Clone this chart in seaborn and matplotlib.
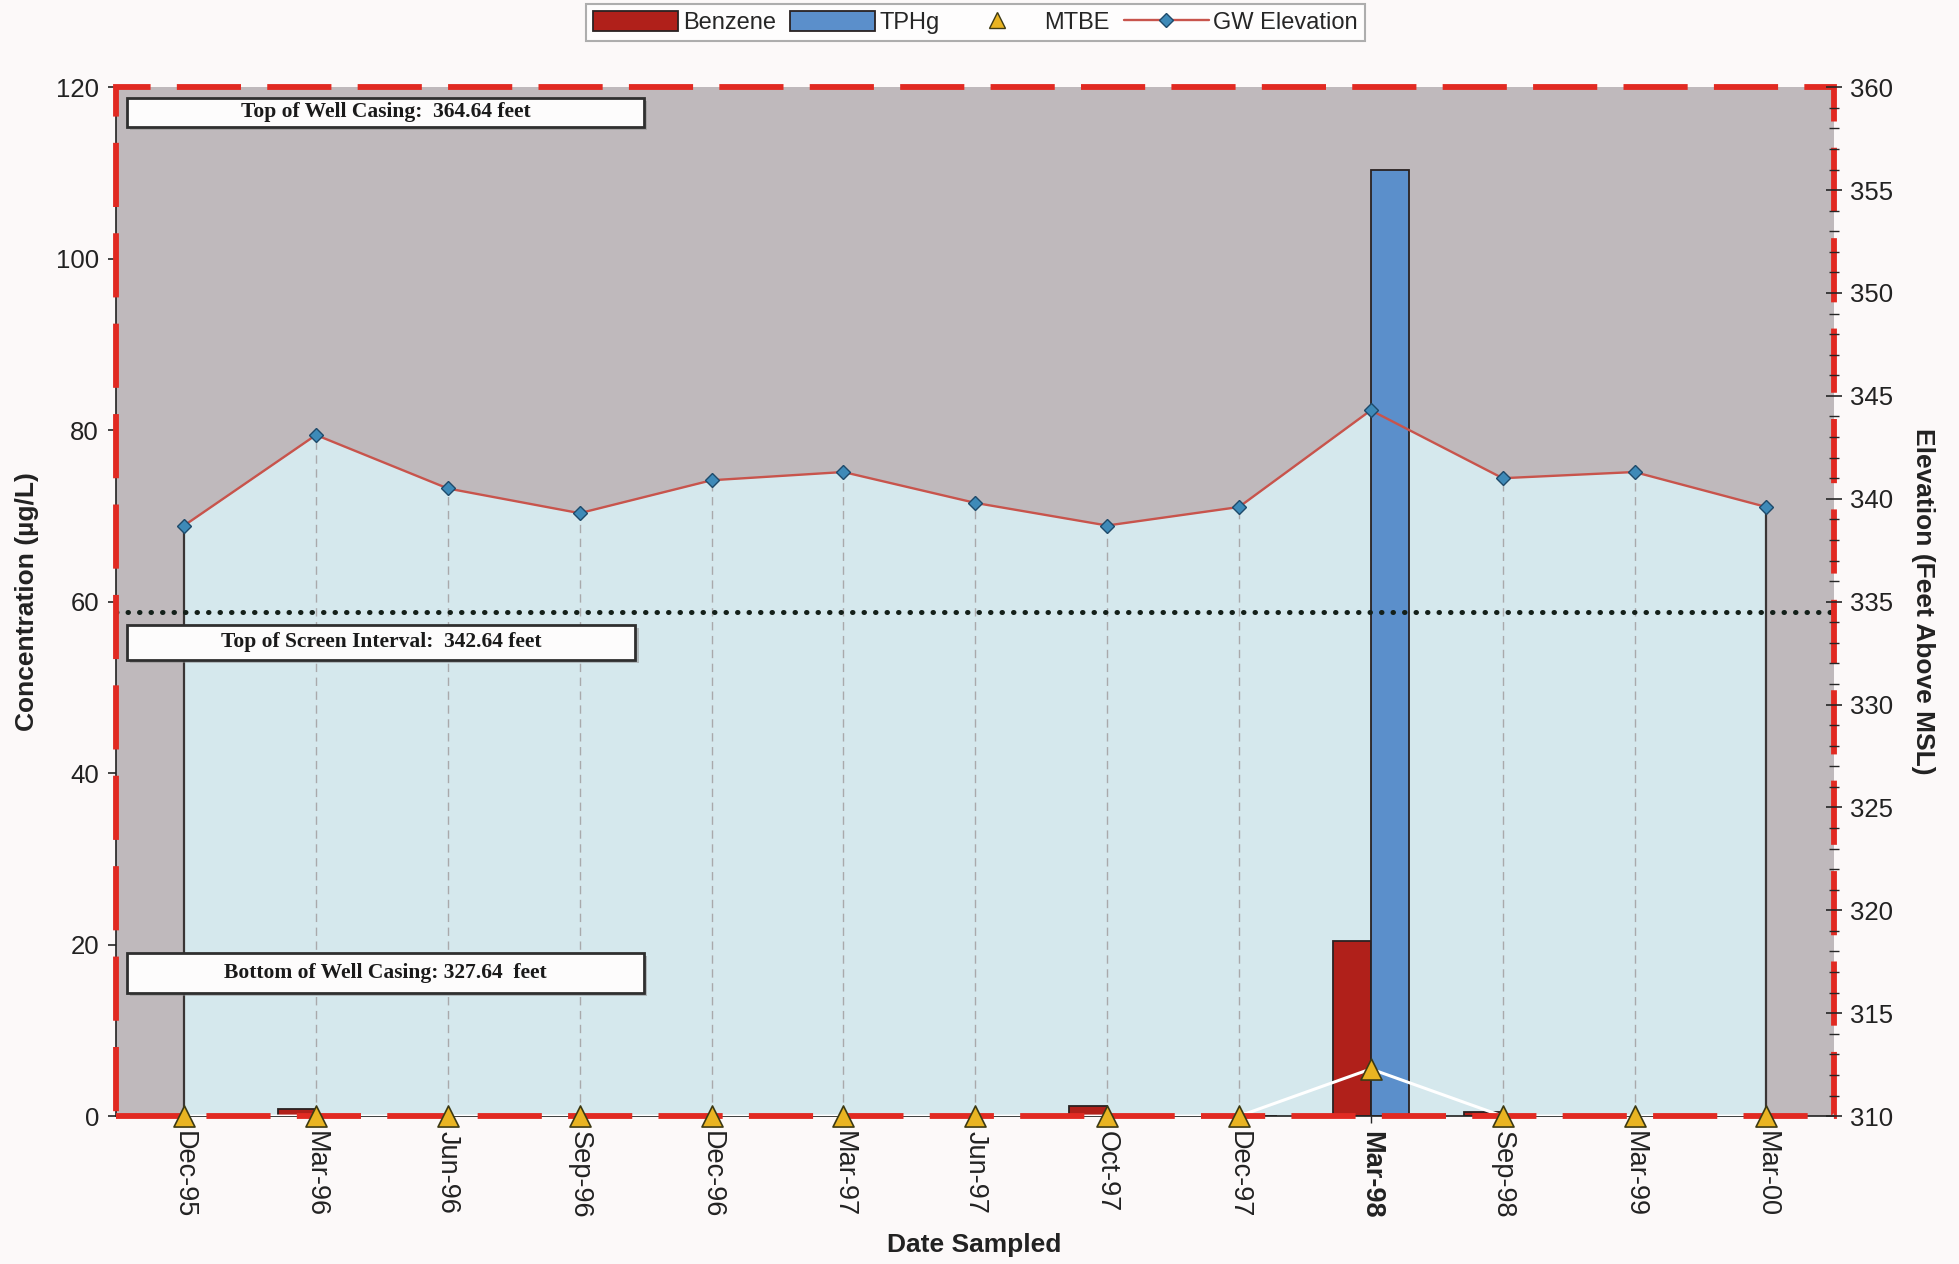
import numpy as np
import pandas as pd
import matplotlib
matplotlib.use("Agg")
import matplotlib.pyplot as plt
import seaborn as sns
from matplotlib.patches import Rectangle, Patch
from matplotlib.lines import Line2D
from matplotlib.ticker import MultipleLocator

# ---------------- data ----------------
dates = ["Dec-95", "Mar-96", "Jun-96", "Sep-96", "Dec-96", "Mar-97", "Jun-97",
         "Oct-97", "Dec-97", "Mar-98", "Sep-98", "Mar-99", "Mar-00"]
benzene = [0, 0.8, 0, 0, 0, 0, 0, 1.2, 0, 20.4, 0.5, 0, 0]
tphg = [0, 0, 0, 0, 0, 0, 0, 0, 0, 110.4, 0, 0, 0]
mtbe = [0, 0, 0, 0, 0, 0, 0, 0, 0, 5.5, 0, 0, 0]
gw_elev = [338.7, 343.1, 340.5, 339.3, 340.9, 341.3, 339.8, 338.7, 339.6,
           344.3, 341.0, 341.3, 339.6]
conc_ticks = [0, 20, 40, 60, 80, 100, 120]
elev_ticks = [310, 315, 320, 325, 330, 335, 340, 345, 350, 355, 360]
screen_line_conc = 58.8
box_labels = ["Top of Well Casing:  364.64 feet",
              "Top of Screen Interval:  342.64 feet",
              "Bottom of Well Casing: 327.64  feet"]
bold_date = "Mar-98"

# ---------------- style ----------------
sns.set_style("white")
plt.rcParams["font.family"] = ["Liberation Sans", "DejaVu Sans"]

c_benz = "#b0201a"
c_tphg = "#5b8fcb"
c_bg = "#bfb9bc"
c_fill = "#d5e8ed"
c_red = "#e12a22"
c_tri = "#e9b422"

fig = plt.figure(figsize=(19.59, 12.64), dpi=100, facecolor="#fcf9f9")
ax = fig.add_axes([0.059, 0.117, 0.877, 0.814])
axf = ax.twinx()   # background fill (elevation scale)
ax2 = ax.twinx()   # GW elevation line

axf.set_zorder(0)
ax.set_zorder(1)
ax2.set_zorder(2)
axf.patch.set_visible(True)
axf.patch.set_facecolor(c_bg)
ax.patch.set_visible(False)
ax2.patch.set_visible(False)

idx = np.arange(len(dates))

# ---- background fill under GW elevation ----
axf.fill_between(idx, 310, gw_elev, color=c_fill, lw=0, zorder=1)
axf.vlines(idx[1:-1], 310, np.array(gw_elev)[1:-1], colors="#a9a9ab",
           linestyles=(0, (6, 4)), lw=1.0, zorder=2)
axf.vlines([idx[0], idx[-1]], 310, [gw_elev[0], gw_elev[-1]], colors="#3a3535",
           lw=1.6, zorder=3)
axf.set_ylim(310, 360)
axf.tick_params(right=False, labelright=False, left=False, labelleft=False)
for s in axf.spines.values():
    s.set_visible(False)

# ---- bars ----
df = pd.DataFrame({
    "Date": dates * 2,
    "Value": benzene + tphg,
    "Analyte": ["Benzene"] * len(dates) + ["TPHg"] * len(dates),
})
sns.barplot(data=df, x="Date", y="Value", hue="Analyte", order=dates,
            hue_order=["Benzene", "TPHg"],
            palette={"Benzene": c_benz, "TPHg": c_tphg}, saturation=1,
            width=0.58, edgecolor="#2a2222", linewidth=1.3, legend=False, ax=ax)

# ---- screen interval dotted line ----
ax.axhline(screen_line_conc, color="#14201a", lw=3.6, ls=(0, (0.1, 2.2)),
           dash_capstyle="round", zorder=4)

# ---- MTBE line (beneath the border) ----
sns.lineplot(x=idx, y=mtbe, ax=ax, color="white", lw=2.2, zorder=4.5)

# ---- red dashed border ----
ax.add_patch(Rectangle((0, 0), 1, 1, transform=ax.transAxes, fill=False,
                       ec=c_red, lw=4.2, ls=(0, (11, 4.5)), clip_on=False, zorder=5))

# ---- MTBE markers (above the border) ----
sns.scatterplot(x=idx, y=mtbe, ax=ax, marker="^", s=230, color=c_tri,
                edgecolor="#3d3a14", linewidth=1.2, clip_on=False, zorder=7,
                legend=False)

# ---- GW elevation ----
sns.lineplot(x=idx, y=gw_elev, ax=ax2, color="#c8544c", lw=1.7, marker="D",
             markersize=7, markerfacecolor="#3e8ab8", markeredgecolor="#1e4a6a",
             markeredgewidth=1.0, zorder=6)

# ---- text boxes ----
boxes = [(0.0065, 0.961, 0.3011, 0.029),
         (0.0065, 0.4435, 0.2960, 0.034),
         (0.0065, 0.120, 0.3011, 0.039)]
for (x0, y0, w, h), lab in zip(boxes, box_labels):
    ax.add_patch(Rectangle((x0 + 0.002, y0 - 0.003), w, h, transform=ax.transAxes,
                           fc="#8a8a8a", ec="none", alpha=0.5, zorder=8))
    ax.add_patch(Rectangle((x0, y0), w, h, transform=ax.transAxes,
                           fc="#fdfcfc", ec="#2f2f2f", lw=2.0, zorder=9))
    ax.text(x0 + w / 2, y0 + h / 2, lab, transform=ax.transAxes, ha="center",
            va="center", fontsize=15.5, fontweight="bold",
            family=["Liberation Serif", "DejaVu Serif"], color="#1a1a1a", zorder=10)

# ---- axes / ticks ----
ax.set_xlim(-0.52, len(dates) - 1 + 0.51)
ax.set_ylim(0, 120)
ax.set_yticks(conc_ticks)
ax.set_yticklabels([str(t) for t in conc_ticks], fontsize=18.5, color="#222")
ax.set_xticks(idx)
ax.set_xticklabels(dates, rotation=270, fontsize=19.5, color="#222",
                   ha="center", va="top")
for t in ax.get_xticklabels():
    if t.get_text() == bold_date:
        t.set_fontweight("bold")
ax.tick_params(axis="y", left=True, direction="out", length=6, width=1.2, pad=6)
ax.tick_params(axis="x", bottom=True, direction="out", length=5, width=1, pad=6)
for side in ["left", "bottom"]:
    ax.spines[side].set_color("#222")
    ax.spines[side].set_linewidth(1.2)
for side in ["top", "right"]:
    ax.spines[side].set_visible(False)

ax2.set_ylim(310, 360)
ax2.set_yticks(elev_ticks)
ax2.set_yticklabels([str(t) for t in elev_ticks], fontsize=18.5, color="#222")
ax2.yaxis.set_minor_locator(MultipleLocator(1))
ax2.tick_params(axis="y", which="major", right=True, direction="inout",
                length=12, width=1.2, pad=6)
ax2.tick_params(axis="y", which="minor", right=True, direction="inout",
                length=7, width=1.0)
for s in ax2.spines.values():
    s.set_visible(False)

ax.set_xlabel("Date Sampled", fontsize=19, fontweight="bold", color="#222",
              labelpad=10)
ax.set_ylabel("Concentration (µg/L)", fontsize=19, fontweight="bold",
              color="#222", labelpad=12)
ax2.set_ylabel("Elevation (Feet Above MSL)", fontsize=19, fontweight="bold",
               color="#222", rotation=270, labelpad=30)
ax2.set_xlabel("")

# ---- legend ----
handles = [
    Patch(facecolor=c_benz, edgecolor="#2a2222", lw=1.3, label="Benzene"),
    Patch(facecolor=c_tphg, edgecolor="#2a2222", lw=1.3, label="TPHg"),
    Line2D([], [], ls="none", marker="^", markersize=11,
           markerfacecolor=c_tri, markeredgecolor="#3d3a14", label="MTBE"),
    Line2D([], [], color="#c8544c", lw=1.7, marker="D", markersize=7,
           markerfacecolor="#3e8ab8", markeredgecolor="#1e4a6a", label="GW Elevation"),
]
leg = fig.legend(handles=handles, loc="center", bbox_to_anchor=(0.498, 0.982),
                 ncol=4, fontsize=17, frameon=True, fancybox=False,
                 handlelength=3.6, handletextpad=0.2, columnspacing=0.6,
                 borderpad=0.3, handleheight=0.9)
leg.get_frame().set_edgecolor("#9a9a9a")
leg.get_frame().set_linewidth(1.5)
leg.get_frame().set_facecolor("#ffffff")

fig.savefig("out.png", dpi=100, facecolor=fig.get_facecolor())
